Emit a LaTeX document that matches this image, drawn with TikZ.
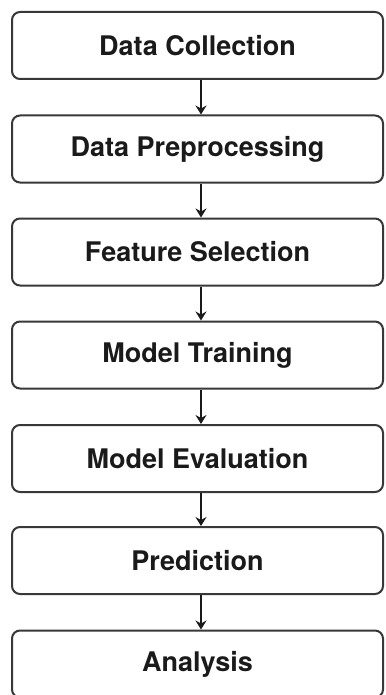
\documentclass[tikz,border=0pt]{standalone}
\usepackage{fontspec}
\setmainfont{TeX Gyre Heros}
\usetikzlibrary{arrows.meta}
\definecolor{edge}{HTML}{383838}
\definecolor{ink}{HTML}{1A1A1A}
\begin{document}
\begin{tikzpicture}[x=1pt,y=-1pt,
  stage/.style={draw=edge, line width=2pt, rounded corners=8pt, fill=white,
    minimum width=371pt, minimum height=67pt, inner sep=0pt,
    text=ink, font=\fontsize{27}{31}\selectfont\bfseries},
  flow/.style={draw=ink, line width=1.8pt,
    -{Stealth[length=9pt,width=11pt,inset=3pt]}}]
  \clip (0,0) rectangle (385,695);
  \fill[white] (0,0) rectangle (385,695);
  \node[stage] (s1) at (197.5,45.5)  {Data Collection};
  \node[stage] (s2) at (197.5,149)   {Data Preprocessing};
  \node[stage] (s3) at (197.5,252)   {Feature Selection};
  \node[stage] (s4) at (197.5,355)   {Model Training};
  \node[stage] (s5) at (197.5,458.5) {Model Evaluation};
  \node[stage] (s6) at (197.5,560.5) {Prediction};
  \node[stage] (s7) at (197.5,664)   {Analysis};
  \foreach \a/\b in {s1/s2,s2/s3,s3/s4,s4/s5,s5/s6,s6/s7}
    \draw[flow] ([xshift=3.5pt]\a.south) -- ([xshift=3.5pt]\b.north);
\end{tikzpicture}
\end{document}
